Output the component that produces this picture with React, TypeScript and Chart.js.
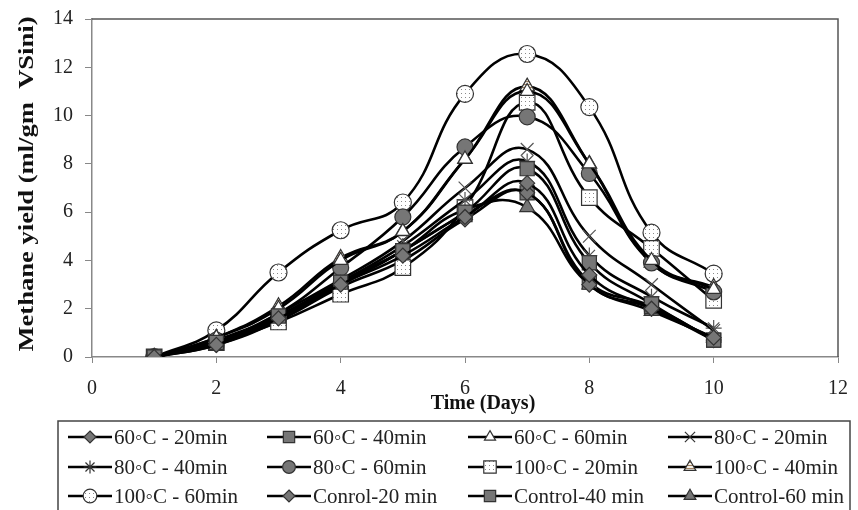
import React, { useEffect, useRef } from "react";
import { Chart, registerables } from "chart.js";

Chart.register(...registerables);

// ---- data ----
const days = [1, 2, 3, 4, 5, 6, 7, 8, 9, 10];
const xTickValues = [0, 2, 4, 6, 8, 10, 12];
const yTickValues = [0, 2, 4, 6, 8, 10, 12, 14];

const seriesNames = [
  "60\u25E6C - 20min",
  "60\u25E6C - 40min",
  "60\u25E6C - 60min",
  "80\u25E6C - 20min",
  "80\u25E6C - 40min",
  "80\u25E6C - 60min",
  "100\u25E6C - 20min",
  "100\u25E6C - 40min",
  "100\u25E6C - 60min",
  "Conrol-20 min",
  "Control-40 min",
  "Control-60 min",
];

const t60_20 = [0, 0.5, 1.6, 3.0, 4.2, 5.8, 7.2, 3.4, 2.0, 0.8];
const t60_40 = [0, 0.6, 1.7, 3.1, 4.4, 6.0, 7.8, 3.9, 2.2, 0.7];
const t60_60 = [0, 0.8, 2.0, 4.0, 5.2, 8.2, 11.0, 8.0, 4.0, 2.8];
const t80_20 = [0, 0.6, 1.8, 3.2, 4.8, 7.0, 8.6, 5.0, 3.0, 1.1];
const t80_40 = [0, 0.6, 1.7, 3.1, 4.6, 6.5, 8.1, 4.2, 2.5, 1.2];
const t80_60 = [0, 0.7, 1.8, 3.7, 5.8, 8.7, 9.95, 7.6, 3.9, 2.7];
const t100_20 = [0, 0.6, 1.45, 2.6, 3.7, 6.2, 10.55, 6.6, 4.5, 2.35];
const t100_40 = [0, 0.8, 2.1, 4.1, 5.2, 8.2, 11.2, 8.0, 3.9, 2.9];
const t100_60 = [0, 1.1, 3.5, 5.25, 6.4, 10.9, 12.55, 10.35, 5.15, 3.45];
const ctl20 = [0, 0.5, 1.5, 2.9, 4.0, 5.7, 6.8, 3.0, 2.0, 0.7];
const ctl40 = [0, 0.6, 1.6, 3.0, 4.4, 5.9, 6.8, 3.1, 2.1, 0.7];
const ctl60 = [0, 0.6, 1.7, 3.0, 4.4, 6.1, 6.2, 3.0, 1.9, 0.8];

const seriesValues = [
  t60_20, t60_40, t60_60, t80_20, t80_40, t80_60,
  t100_20, t100_40, t100_60, ctl20, ctl40, ctl60,
];

const FONT = "'Liberation Serif', 'Times New Roman', serif";

function makeDots(): CanvasPattern | string {
  const c = document.createElement("canvas");
  c.width = 4;
  c.height = 4;
  const g = c.getContext("2d");
  if (!g) return "#fff";
  g.fillStyle = "#ffffff";
  g.fillRect(0, 0, 4, 4);
  g.fillStyle = "#8a8a8a";
  g.fillRect(1, 1, 1, 1);
  const p = g.createPattern(c, "repeat");
  return p || "#fff";
}

function makeStripes(): CanvasPattern | string {
  const c = document.createElement("canvas");
  c.width = 4;
  c.height = 3;
  const g = c.getContext("2d");
  if (!g) return "#ccc";
  g.fillStyle = "#f4f0e8";
  g.fillRect(0, 0, 4, 3);
  g.fillStyle = "#a08060";
  g.fillRect(0, 0, 4, 1);
  const p = g.createPattern(c, "repeat");
  return p || "#ccc";
}

function drawMarker(
  ctx: CanvasRenderingContext2D,
  style: string,
  x: number,
  y: number,
  r: number,
  fill: any,
  stroke: string
) {
  ctx.save();
  ctx.fillStyle = fill;
  ctx.strokeStyle = stroke;
  ctx.lineWidth = 1.2;
  ctx.beginPath();
  if (style === "circle") {
    ctx.arc(x, y, r, 0, Math.PI * 2);
    ctx.fill();
    ctx.stroke();
  } else if (style === "rect") {
    const s = r * Math.SQRT1_2;
    ctx.rect(x - s, y - s, 2 * s, 2 * s);
    ctx.fill();
    ctx.stroke();
  } else if (style === "rectRot") {
    ctx.moveTo(x, y - r);
    ctx.lineTo(x + r, y);
    ctx.lineTo(x, y + r);
    ctx.lineTo(x - r, y);
    ctx.closePath();
    ctx.fill();
    ctx.stroke();
  } else if (style === "triangle") {
    const side = (r * 3) / Math.sqrt(3);
    const h = (side * Math.sqrt(3)) / 2;
    ctx.moveTo(x, y - (2 * h) / 3);
    ctx.lineTo(x + side / 2, y + h / 3);
    ctx.lineTo(x - side / 2, y + h / 3);
    ctx.closePath();
    ctx.fill();
    ctx.stroke();
  } else if (style === "crossRot") {
    const d = r * Math.SQRT1_2;
    ctx.moveTo(x - d, y - d);
    ctx.lineTo(x + d, y + d);
    ctx.moveTo(x + d, y - d);
    ctx.lineTo(x - d, y + d);
    ctx.stroke();
  } else if (style === "star") {
    const d = r * Math.SQRT1_2;
    ctx.moveTo(x - d, y - d);
    ctx.lineTo(x + d, y + d);
    ctx.moveTo(x + d, y - d);
    ctx.lineTo(x - d, y + d);
    ctx.moveTo(x, y - r);
    ctx.lineTo(x, y + r);
    ctx.moveTo(x - r, y);
    ctx.lineTo(x + r, y);
    ctx.stroke();
  }
  ctx.restore();
}

export default function App() {
  const ref = useRef<HTMLCanvasElement | null>(null);

  useEffect(() => {
    if (!ref.current) return;
    const dots = makeDots();
    const stripes = makeStripes();
    const gray = "#767676";
    const styles = [
      { ps: "rectRot", r: 7.5, fill: gray },
      { ps: "rect", r: 10, fill: gray },
      { ps: "triangle", r: 8, fill: "#ffffff" },
      { ps: "crossRot", r: 9, fill: "#ffffff" },
      { ps: "star", r: 8, fill: "#ffffff" },
      { ps: "circle", r: 8, fill: gray },
      { ps: "rect", r: 11, fill: dots },
      { ps: "triangle", r: 8.5, fill: stripes },
      { ps: "circle", r: 8.5, fill: dots },
      { ps: "rectRot", r: 7.5, fill: gray },
      { ps: "rect", r: 10, fill: gray },
      { ps: "triangle", r: 8.5, fill: gray },
    ];

    const datasets = seriesValues.map((vals, i) => ({
      label: seriesNames[i],
      data: vals.map((v, j) => ({ x: days[j], y: v })),
      borderColor: "#000000",
      borderWidth: 2.6,
      tension: 0.45,
      pointStyle: styles[i].ps as any,
      pointRadius: styles[i].r,
      pointBackgroundColor: styles[i].fill as any,
      pointBorderColor: styles[i].ps === "crossRot" || styles[i].ps === "star" ? "#555" : "#333",
      pointBorderWidth: 1.2,
      fill: false,
    }));

    const frameAndText = {
      id: "frameAndText",
      afterDraw(chart: any) {
        const ctx: CanvasRenderingContext2D = chart.ctx;
        const a = chart.chartArea;
        ctx.save();
        // frame top & right
        ctx.strokeStyle = "#555";
        ctx.lineWidth = 1.5;
        ctx.beginPath();
        ctx.moveTo(a.left, a.top);
        ctx.lineTo(a.right, a.top);
        ctx.lineTo(a.right, a.bottom);
        ctx.stroke();

        // y title
        ctx.fillStyle = "#111";
        ctx.font = `bold 22px ${FONT}`;
        ctx.textAlign = "center";
        ctx.textBaseline = "middle";
        const yTitle = "Methane yield (ml/gm  VSini)";
        const w = ctx.measureText(yTitle).width;
        ctx.save();
        ctx.translate(27, 184);
        ctx.rotate(-Math.PI / 2);
        ctx.scale(335 / w, 1);
        ctx.fillText(yTitle, 0, 0);
        ctx.restore();

        // x title
        ctx.font = `bold 20px ${FONT}`;
        ctx.fillText("Time (Days)", 483, 404);

        // legend box
        ctx.strokeStyle = "#444";
        ctx.lineWidth = 1.5;
        ctx.strokeRect(58, 421, 792, 100);
        const colX = [68, 267, 468, 668];
        const rowY = [437, 467, 496];
        ctx.font = `21px ${FONT}`;
        ctx.textAlign = "left";
        ctx.textBaseline = "middle";
        chart.data.datasets.forEach((ds: any, i: number) => {
          const x0 = colX[i % 4];
          const y0 = rowY[Math.floor(i / 4)];
          ctx.strokeStyle = "#000";
          ctx.lineWidth = 2.6;
          ctx.beginPath();
          ctx.moveTo(x0, y0);
          ctx.lineTo(x0 + 44, y0);
          ctx.stroke();
          const st = styles[i];
          drawMarker(ctx, st.ps, x0 + 22, y0, st.r * 0.8, st.fill, "#333");
          ctx.fillStyle = "#222";
          ctx.fillText(ds.label, x0 + 46, y0 + 1);
        });
        ctx.restore();
      },
    };

    const chart = new Chart(ref.current, {
      type: "line",
      data: { datasets: datasets as any },
      plugins: [frameAndText as any],
      options: {
        animation: false,
        responsive: false,
        maintainAspectRatio: false,
        layout: { padding: { left: 0, right: 20, top: 19, bottom: 0 } },
        plugins: {
          legend: { display: false },
          tooltip: { enabled: false },
        },
        scales: {
          x: {
            type: "linear",
            min: xTickValues[0],
            max: xTickValues[xTickValues.length - 1],
            afterFit: (s: any) => {
              s.height = 153;
              s.paddingLeft = 0;
              s.paddingRight = 0;
            },
            afterBuildTicks: (s: any) => {
              s.ticks = xTickValues.map((v) => ({ value: v }));
            },
            ticks: {
              color: "#222",
              font: { family: FONT, size: 20 },
              padding: 14,
            },
            grid: {
              drawOnChartArea: false,
              drawTicks: true,
              tickLength: 6,
              color: "#888",
            },
            border: { color: "#888", width: 1.5 },
          },
          y: {
            type: "linear",
            min: yTickValues[0],
            max: yTickValues[yTickValues.length - 1],
            afterFit: (s: any) => {
              s.width = 92;
              s.paddingTop = 0;
              s.paddingBottom = 0;
            },
            afterBuildTicks: (s: any) => {
              s.ticks = yTickValues.map((v) => ({ value: v }));
            },
            ticks: {
              color: "#222",
              font: { family: FONT, size: 20 },
              padding: 12,
            },
            grid: {
              drawOnChartArea: false,
              drawTicks: true,
              tickLength: 7,
              color: "#888",
            },
            border: { color: "#888", width: 1.5 },
          },
        },
      },
    });
    return () => chart.destroy();
  }, []);

  return (
    <div style={{ position: "absolute", left: 0, top: 0, width: 858, height: 510, background: "#fff" }}>
      <canvas ref={ref} width={858} height={510} style={{ width: 858, height: 510, display: "block" }} />
    </div>
  );
}
